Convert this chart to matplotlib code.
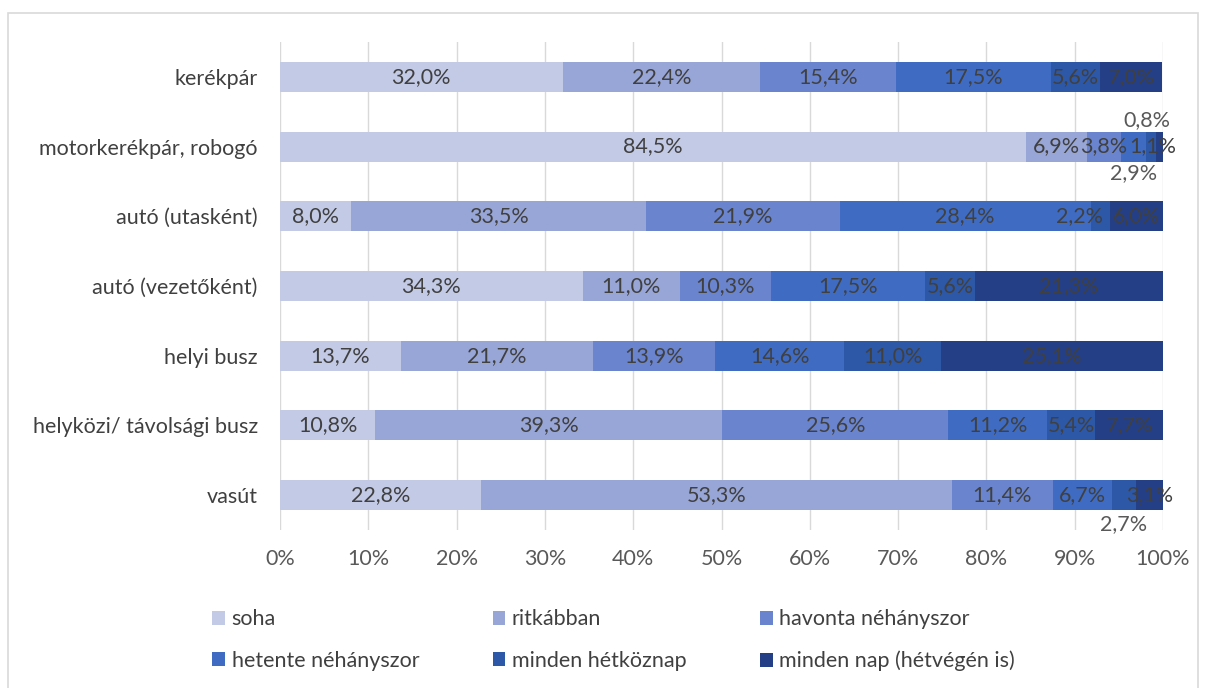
import matplotlib
matplotlib.use("Agg")
import matplotlib.pyplot as plt
from matplotlib.patches import Rectangle, Patch
import numpy as np

categories = ["kerékpár", "motorkerékpár, robogó", "autó (utasként)", "autó (vezetőként)",
              "helyi busz", "helyközi/ távolsági busz", "vasút"]
series_names = ["soha", "ritkábban", "havonta néhányszor", "hetente néhányszor",
                "minden hétköznap", "minden nap (hétvégén is)"]
soha = [32.0, 84.5, 8.0, 34.3, 13.7, 10.8, 22.8]
ritkabban = [22.4, 6.9, 33.5, 11.0, 21.7, 39.3, 53.3]
havonta = [15.4, 3.8, 21.9, 10.3, 13.9, 25.6, 11.4]
hetente = [17.5, 2.9, 28.4, 17.5, 14.6, 11.2, 6.7]
hetkoznap = [5.6, 1.1, 2.2, 5.6, 11.0, 5.4, 2.7]
mindennap = [7.0, 0.8, 6.0, 21.3, 25.1, 7.7, 3.1]
xticks = [0, 10, 20, 30, 40, 50, 60, 70, 80, 90, 100]

series = [soha, ritkabban, havonta, hetente, hetkoznap, mindennap]
colors = ["#C3CAE6", "#98A6D7", "#6A84CE", "#3F6CC2", "#2D58A8", "#243F85"]

plt.rcParams['font.family'] = ['Lato', 'DejaVu Sans']
FS = 15.5

fig = plt.figure(figsize=(12.06, 6.88), dpi=100)
ax = fig.add_axes([280/1206, 1-530/688, (1163-280)/1206, (530-42)/688])

# label offsets (points) for small segments: (category index, series index) -> (dx, dy)
special = {(1, 3): (0, -19), (1, 4): (1, 0), (1, 5): (-9, 19), (6, 4): (0, -21),
           (2, 4): (-15, 0)}

y = np.arange(len(categories))
left = np.zeros(len(categories))
for si, (vals, col, name) in enumerate(zip(series, colors, series_names)):
    vals = np.array(vals)
    ax.barh(y, vals, left=left, height=0.43, color=col, label=name, zorder=3)
    for ci, (l, v) in enumerate(zip(left, vals)):
        dx, dy = special.get((ci, si), (0, 0))
        c = "#404040" if dy == 0 else "#595959"
        ax.annotate(f"{v:.1f}%".replace(".", ","), xy=(l + v/2, ci), xytext=(dx, dy),
                    textcoords="offset points", ha="center", va="center",
                    fontsize=FS, color=c, zorder=5)
    left = left + vals

ax.set_xlim(0, 100)
ax.set_ylim(len(categories) - 0.5, -0.5)
ax.set_yticks(y)
ax.set_yticklabels(categories, fontsize=FS, color="#404040")
ax.set_xticks(xticks)
ax.set_xticklabels([f"{t}%" for t in xticks], fontsize=FS, color="#595959")
ax.tick_params(axis="both", length=0)
ax.tick_params(axis="y", pad=16)
ax.tick_params(axis="x", pad=14)
ax.grid(axis="x", color="#D9D9D9", linewidth=1, zorder=0)
for s in ax.spines.values():
    s.set_visible(False)

handles = [Patch(facecolor=c, edgecolor="none") for c in colors]
order = [0, 3, 1, 4, 2, 5]
fig.legend([handles[i] for i in order], [series_names[i] for i in order], ncol=3,
           loc="upper left", bbox_to_anchor=(193/1206, 1-590/688), frameon=False,
           fontsize=FS, labelcolor="#404040", handlelength=0.6, handleheight=0.6,
           handletextpad=0.3, columnspacing=3.4, labelspacing=1.0)

fig.patches.append(Rectangle((8/1206, -0.01), (1198-8)/1206, 1.01-13/688,
                             transform=fig.transFigure, fill=False,
                             edgecolor="#D9D9D9", linewidth=1.2))

fig.savefig("out.png", dpi=100, facecolor="white")
